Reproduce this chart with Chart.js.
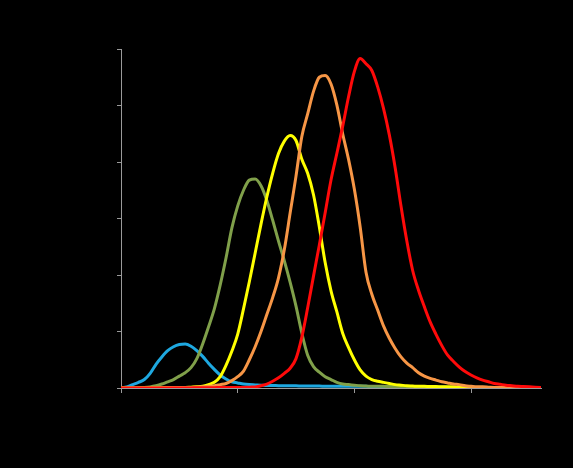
<!DOCTYPE html>
<html>
<head>
<meta charset="utf-8">
<script src="https://cdn.jsdelivr.net/npm/chart.js@4"></script>
<style>
  html, body { margin: 0; padding: 0; background: #000; }
  #wrap { width: 573px; height: 468px; position: relative; }
</style>
</head>
<body>
<div id="wrap"><canvas id="curves"></canvas></div>
<script>
// x positions shared by every curve
var xs = [0,5,10,15,20,25,30,35,40,45,50,55,60,65,70,75,80,85,90,95,
  100,105,110,115,120,125,130,135,140,145,150,155,160,165,170,175,180,185,190,195,
  200,205,210,215,220,225,230,235,240,245,250,255,260,265,270,275,280,285,290,295,
  300,305,310,315,320,325,330,335,340,345,350,355,360];

var blue = [0,0.02,0.06,0.1,0.15,0.26,0.42,0.55,0.66,0.73,0.77,0.78,0.74,0.66,0.56,0.44,0.33,0.23,0.16,0.11,
  0.09,0.07,0.06,0.055,0.05,0.045,0.045,0.04,0.04,
  0.04,0.04,0.035,0.035,0.035,0.035,0.03,0.03,0.03,0.03,0.03,0.03,
  0.03,0.03,0.025,0.025,0.025,0.025,0.02,0.02,0.02,0.02,0.02,0.015,0.015,0.015,0.015,0.01,0.01,0.01,0.01,0.01,
  0.01,0.005,0.005,0.005,0.005,0.005,0,0,0,0,0,0];

var green = [0,0,0,0.005,0.01,0.02,0.04,0.07,0.11,0.15,0.21,0.27,0.36,0.52,0.78,1.08,1.4,1.82,2.3,2.83,
  3.22,3.5,3.68,3.7,3.58,3.32,2.97,2.6,2.25,1.87,1.45,0.97,0.58,0.38,0.28,0.2,0.15,0.1,0.07,0.06,
  0.05,0.04,0.035,
  0.03,0.03,0.03,0.025,0.025,0.025,0.02,0.02,0.02,0.02,
  0.015,0.015,0.015,0.01,0.01,0.01,0.01,0.01,0.005,0.005,0.005,0.005,0.005,0,0,0,0,0,0,0];

var yellow = [0,0,0,0,0,0.005,0.005,0.005,0.01,0.01,0.01,0.01,
  0.015,0.02,0.03,0.06,0.1,0.2,0.4,0.65,0.95,1.4,1.88,2.39,2.9,3.38,3.8,4.15,4.37,4.47,
  4.38,4.05,3.8,3.42,2.85,2.22,1.72,1.35,0.97,0.72,0.5,0.32,0.21,0.15,0.12,0.1,0.08,0.06,0.05,0.04,
  0.035,0.03,0.03,
  0.025,0.025,0.02,0.02,0.02,0.015,0.015,0.01,0.01,0.01,0.01,0.005,0.005,0.005,0.005,0,0,0,0,0];

var orange = [0,0,0,0,0,0,0.005,0.005,0.005,0.01,0.01,0.01,
  0.01,0.015,0.02,0.03,0.04,0.06,0.08,0.13,0.2,0.3,0.5,0.73,1.0,1.3,1.6,1.95,2.45,3.1,
  3.75,4.45,4.85,5.25,5.5,5.53,5.38,5.01,4.5,4.05,3.52,2.85,2.05,1.66,1.38,1.1,0.88,0.7,0.55,0.44,
  0.36,0.27,0.21,0.17,0.14,0.11,0.09,0.07,0.06,0.04,0.03,
  0.02,0.02,0.015,0.01,0.01,0.01,0.005,0.005,0,0,0,0];

var red = [0,0,0,0,0,0,0,0,0,0,0,0,0,0.005,0.005,0.005,0.005,0.01,0.01,0.01,
  0.01,0.01,0.015,0.02,0.04,0.07,0.12,0.18,0.26,0.35,0.52,0.9,1.42,1.98,2.53,3.1,3.68,4.15,4.63,5.15,
  5.6,5.83,5.74,5.62,5.33,4.95,4.48,3.9,3.22,2.6,2.08,1.73,1.44,1.17,0.95,0.75,0.58,0.47,0.37,0.29,
  0.23,0.18,0.14,0.11,0.08,0.065,0.05,0.04,0.03,0.025,0.02,0.015,0.01];

var xTicks = [0, 100, 200, 300];
var yTicks = [0, 1, 2, 3, 4, 5, 6];

function pts(vals) {
  return xs.map(function(x, i) { return { x: x, y: vals[i] }; });
}

function curve(vals, color, order) {
  return {
    data: pts(vals),
    borderColor: color,
    backgroundColor: color,
    borderWidth: 3,
    pointRadius: 0,
    fill: false,
    cubicInterpolationMode: 'monotone',
    order: order
  };
}

var axisGrey = '#9a9a9a';

var ctx = document.getElementById('curves');
var chart = new Chart(ctx, {
  type: 'line',
  data: {
    datasets: [
      curve(blue, '#1ea8e0', 4),
      curve(green, '#80a04a', 3),
      curve(yellow, '#ffff00', 2),
      curve(orange, '#f79646', 1),
      curve(red, '#ff0a0a', 0)
    ]
  },
  options: {
    responsive: true,
    maintainAspectRatio: false,
    animation: false,
    layout: { padding: { top: 49, right: 32, left: 0, bottom: 0 } },
    plugins: { legend: { display: false }, tooltip: { enabled: false } },
    scales: {
      x: {
        type: 'linear',
        min: xTicks[0],
        max: 360,
        afterBuildTicks: function(s) { s.ticks = xTicks.map(function(v) { return { value: v }; }); },
        ticks: { display: false },
        grid: { drawOnChartArea: false, drawTicks: true, tickLength: 5, color: axisGrey },
        border: { display: true, color: axisGrey, width: 1 },
        afterFit: function(s) { s.height = 80; }
      },
      y: {
        min: yTicks[0],
        max: yTicks[yTicks.length - 1],
        afterBuildTicks: function(s) { s.ticks = yTicks.map(function(v) { return { value: v }; }); },
        ticks: { display: false },
        grid: { drawOnChartArea: false, drawTicks: true, tickLength: 4, color: axisGrey },
        border: { display: true, color: axisGrey, width: 1 },
        afterFit: function(s) { s.width = 121; }
      }
    }
  }
});
</script>
</body>
</html>
